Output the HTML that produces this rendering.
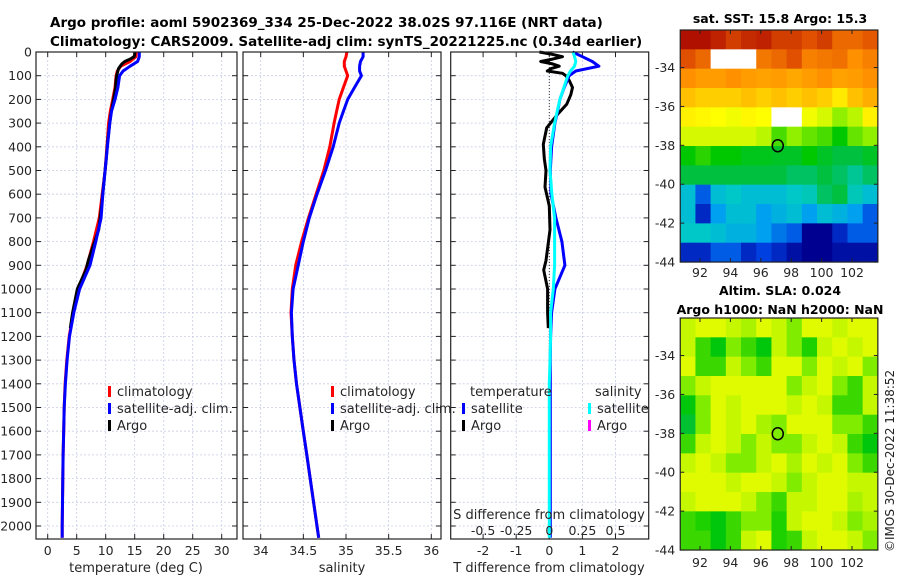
<!DOCTYPE html>
<html><head><meta charset="utf-8">
<style>
html,body{margin:0;padding:0;background:#fff;}
svg{display:block;font-family:"DejaVu Sans","Liberation Sans",sans-serif;}
</style></head>
<body>
<svg id="fig" width="900" height="580" viewBox="0 0 900 580">
<text x="50" y="27" font-size="13.5" font-weight="bold" fill="#000">Argo profile: aoml 5902369_334 25-Dec-2022 38.02S 97.116E (NRT data)</text>
<text x="50" y="46" font-size="13.5" font-weight="bold" fill="#000">Climatology: CARS2009. Satellite-adj clim: synTS_20221225.nc (0.34d earlier)</text>
<text x="780" y="23" font-size="12.5" font-weight="bold" text-anchor="middle">sat. SST: 15.8 Argo: 15.3</text>
<text x="780" y="295" font-size="12.5" font-weight="bold" text-anchor="middle">Altim. SLA: 0.024</text>
<text x="780" y="314" font-size="12.5" font-weight="bold" text-anchor="middle">Argo h1000: NaN h2000: NaN</text>
<text transform="translate(894,552) rotate(-90)" font-size="12" fill="#222">©IMOS 30-Dec-2022 11:38:52</text>
<text x="88" y="512" font-size="10.5" fill="#111">US ARGO PROJECT</text>
<text x="88" y="525" font-size="10.5" fill="#111">PI: DEAN ROEMMICH</text>
</svg>
<script>
// ---- data ----
const depth = [0,20,40,60,80,100,150,200,250,300,400,500,600,700,800,900,1000,1100,1200,1300,1400,1500,1600,1700,1800,1900,2000,2050];
const tClim = [15.3,15.2,14.2,12.6,12.0,11.8,11.6,11.2,10.8,10.5,10.2,9.9,9.4,8.9,7.9,6.8,5.3,4.4,3.7,3.3,3.0,2.85,2.75,2.65,2.6,2.55,2.5,2.5];
const tSat = [15.8,15.8,15.5,14.2,13.0,12.4,12.1,11.6,11.0,10.7,10.3,9.9,9.5,9.2,8.3,7.3,5.5,4.5,3.75,3.35,3.05,2.85,2.75,2.65,2.6,2.55,2.5,2.5];
const argoDepth = [0,10,20,30,40,50,60,70,80,90,100,120,150,180,220,260,320,390,450,500,570,650,750,880,920,1000,1100,1165];
const tArgo = [15.0,15.0,14.9,14.2,13.3,12.8,12.5,12.2,12.1,12.0,11.9,11.8,11.7,11.5,11.2,10.9,10.6,10.3,10.1,9.9,9.6,9.3,8.8,7.0,6.6,5.1,4.3,3.9];
const sClim = [35.01,35.0,34.98,34.98,35.0,35.02,34.97,34.92,34.89,34.86,34.81,34.74,34.65,34.56,34.48,34.41,34.37,34.355,34.37,34.39,34.42,34.46,34.5,34.54,34.58,34.62,34.66,34.68];
const sSat = [35.2,35.2,35.17,35.16,35.16,35.18,35.1,35.02,34.97,34.92,34.85,34.76,34.66,34.57,34.5,34.44,34.38,34.36,34.37,34.39,34.42,34.46,34.5,34.54,34.58,34.62,34.66,34.68];
const dTSat = [0.7,1.0,1.3,1.5,0.8,0.6,0.45,0.32,0.25,0.17,0.07,0.03,0.05,0.2,0.38,0.47,0.17,0.07,0.04,0.03,0.03,0.03,0.03,0.03,0.03,0.03,0.03,0.03];
const dSSat = [0.18,0.19,0.2,0.19,0.16,0.14,0.11,0.08,0.06,0.04,0.01,0.005,0.02,0.04,0.04,0.04,0.03,0.01,0.01,0.005,0,0,0,0,0,0,0,0];
const dTArgo = [-0.3,0.1,0.4,0.1,-0.26,0.1,0.3,0.05,-0.06,0.4,0.5,0.6,0.7,0.65,0.53,0.27,-0.08,-0.18,-0.15,-0.1,-0.13,0.0,0.02,-0.1,-0.17,-0.05,-0.05,-0.03];
const depthTicks = [0,100,200,300,400,500,600,700,800,900,1000,1100,1200,1300,1400,1500,1600,1700,1800,1900,2000];
const tempTicks = [0,5,10,15,20,25,30];
const salTicks = [34,34.5,35,35.5,36];
const tdiffTicks = [-2,-1,0,1,2];
const sdiffTicks = [-0.5,-0.25,0,0.25,0.5];
const sdiffLabels = ["-0.5","-0.25","0","0.25","0.5"];
const latTicks = [-34,-36,-38,-40,-42,-44];
const lonTicks = [92,94,96,98,100,102];
const argoLon = 97.116, argoLat = -38.02;
const sstGrid = [
[.95,.95,.93,.9,.92,.93,.9,.9,.88,.9,.85,.85,.87],
[.88,.85,-1,-1,-1,.83,.85,.88,.82,.83,.84,.8,.82],
[.8,.78,.78,.8,.78,.77,.78,.76,.78,.8,.77,.78,.8],
[.72,.7,.7,.7,.72,.7,.72,.7,.72,.7,.66,.72,.75],
[.65,.64,.63,.62,.64,.63,-1,-1,.62,.6,.55,.58,.65],
[.6,.6,.6,.6,.6,.58,.5,.55,.52,.5,.45,.52,.55],
[.45,.48,.45,.45,.43,.43,.42,.42,.45,.42,.4,.4,.42],
[.4,.4,.4,.4,.4,.4,.4,.38,.38,.4,.38,.35,.38],
[.3,.2,.3,.32,.3,.3,.3,.32,.33,.38,.4,.33,.3],
[.3,.15,.25,.3,.3,.25,.28,.3,.25,.3,.28,.25,.2],
[.32,.32,.3,.28,.28,.25,.22,.2,.1,.1,.15,.2,.2],
[.15,.15,.2,.2,.15,.18,.15,.12,.1,.1,.12,.12,.12]];
const slaGrid = [
[.6,.62,.62,.6,.58,.62,.6,.55,.62,.62,.6,.62,.62],
[.6,.5,.45,.55,.5,.45,.6,.55,.48,.6,.62,.6,.62],
[.62,.5,.5,.6,.55,.5,.62,.62,.55,.62,.6,.62,.55],
[.55,.6,.62,.62,.62,.62,.62,.55,.6,.62,.55,.5,.6],
[.45,.55,.62,.6,.62,.62,.62,.6,.62,.6,.5,.5,.6],
[.42,.55,.62,.6,.62,.58,.55,.62,.62,.62,.55,.55,.5],
[.5,.6,.62,.6,.55,.6,.55,.55,.6,.62,.6,.5,.45],
[.6,.62,.6,.55,.55,.6,.62,.58,.62,.6,.62,.55,.5],
[.62,.62,.62,.6,.62,.62,.6,.55,.6,.62,.62,.6,.6],
[.6,.62,.62,.62,.6,.55,.5,.6,.6,.62,.62,.58,.6],
[.5,.48,.45,.5,.55,.55,.48,.6,.62,.62,.6,.55,.58],
[.5,.5,.45,.5,.6,.62,.48,.5,.6,.62,.62,.6,.55]];

// ---- helpers ----
const NS="http://www.w3.org/2000/svg";
const svg=document.getElementById('fig');
function mk(tag,attrs,parent){const e=document.createElementNS(NS,tag);for(const k in attrs)e.setAttribute(k,attrs[k]);(parent||svg).appendChild(e);return e;}
const Y0=52,Y1=539;
const dy=d=>52+d*0.237;
const tx=v=>47.7+v*5.8;
const sx=v=>260.7+(v-34)*85.3;
const dx=v=>549.3+v*33.1;
const panels=[{x0:36,x1:237,f:tx,ticks:tempTicks,name:'temperature'},{x0:243,x1:441,f:sx,ticks:salTicks,name:'salinity'},{x0:450.7,x1:648.7,f:dx,ticks:tdiffTicks,name:'difference'}];

panels.forEach((p,i)=>{
  const g=mk('g',{});
  
  
  mk('rect',{x:p.x0,y:Y0,width:p.x1-p.x0,height:Y1-Y0,fill:'#fff'},g);
  depthTicks.forEach(d=>{
    const l=mk('line',{x1:p.x0,x2:p.x1,y1:dy(d),y2:dy(d),stroke:'#c8cde6','stroke-width':0.8,'stroke-dasharray':'2,2'},g);
    
    
    mk('line',{x1:p.x0,x2:p.x0+5,y1:dy(d),y2:dy(d),stroke:'#222'},g);
    mk('line',{x1:p.x1-5,x2:p.x1,y1:dy(d),y2:dy(d),stroke:'#222'},g);
  });
  p.ticks.forEach(v=>{
    const x=p.f(v);
    const l=mk('line',{x1:x,x2:x,y1:Y0,y2:Y1,stroke:'#c8cde6','stroke-width':0.8,'stroke-dasharray':'2,2'},g);
    
    
    mk('line',{x1:x,x2:x,y1:Y0,y2:Y0+5,stroke:'#222'},g);
    mk('line',{x1:x,x2:x,y1:Y1-5,y2:Y1,stroke:'#222'},g);
    const t=mk('text',{x:x,y:555,'font-size':12.5,'text-anchor':'middle',fill:'#262626'},g);
    t.textContent=String(v);
    
    
  });
});
depthTicks.forEach(d=>{
  const t=mk('text',{x:32,y:dy(d)+4.5,'font-size':12.5,'text-anchor':'end',fill:'#262626'});
  t.textContent=String(d);
  
  
});
const zl=mk('line',{x1:dx(0),x2:dx(0),y1:Y0,y2:Y1,stroke:'#333','stroke-width':1,'stroke-dasharray':'1,2'});



function line(xs,ds,fx,color,name,w){
  const pts=xs.map((v,i)=>fx(v).toFixed(1)+','+dy(ds[i]).toFixed(1)).join(' ');
  const e=mk('polyline',{points:pts,fill:'none',stroke:color,'stroke-width':w||3,'stroke-linejoin':'round'});
  
  
}
line(tClim,depth,tx,'#f00','temp-climatology-line');
line(tArgo,argoDepth,tx,'#000','temp-argo-line');
line(tSat,depth,tx,'#00f','temp-satellite-line');
line(sClim,depth,sx,'#f00','sal-climatology-line');
line(sSat,depth,sx,'#00f','sal-satellite-line');
line(dTArgo,argoDepth,dx,'#000','tdiff-argo-line');
line(dTSat,depth,dx,'#00f','tdiff-satellite-line');
line(dSSat,depth,v=>dx(v*4),'#0ff','sdiff-satellite-line');

panels.forEach(p=>{
  const b=mk('rect',{x:p.x0,y:Y0,width:p.x1-p.x0,height:Y1-Y0,fill:'none',stroke:'#222','stroke-width':1.2});
  
  
});

function txt(x,y,s,name,opts){const t=mk('text',Object.assign({x:x,y:y,'font-size':13,fill:'#262626'},opts||{}));t.textContent=s;return t;}
txt(136,572,'temperature (deg C)','temperature-axis-title',{'text-anchor':'middle'});
txt(342,572,'salinity','salinity-axis-title',{'text-anchor':'middle'});
txt(549,572,'T difference from climatology','tdiff-axis-title',{'text-anchor':'middle'});
txt(549,519,'S difference from climatology','sdiff-axis-title',{'text-anchor':'middle'});
sdiffTicks.forEach((v,i)=>{txt(dx(v*4),535,sdiffLabels[i],'sdiff-tick-label',{'text-anchor':'middle','font-size':12.5});});

function legItem(bx,y,color,label,name){
  const r=mk('rect',{x:bx,y:y-10,width:3,height:11,fill:color});
  
  
  txt(bx+9,y,label,name+'-label');
}
legItem(108,396,'#f00','climatology','legend-t-climatology');
legItem(108,413,'#00f','satellite-adj. clim.','legend-t-satellite');
legItem(108,430,'#000','Argo','legend-t-argo');
legItem(331,396,'#f00','climatology','legend-s-climatology');
legItem(331,413,'#00f','satellite-adj. clim.','legend-s-satellite');
legItem(331,430,'#000','Argo','legend-s-argo');
txt(470,396,'temperature','legend-temperature-header');
txt(595,396,'salinity','legend-salinity-header');
legItem(462,413,'#00f','satellite','legend-tdiff-satellite');
legItem(462,430,'#000','Argo','legend-tdiff-argo');
legItem(588,413,'#0ff','satellite','legend-sdiff-satellite');
legItem(588,430,'#f0f','Argo','legend-sdiff-argo');

// ---- maps ----
const cmapStops=[[0.1,[0,0,144]],[0.18,[0,64,224]],[0.25,[0,160,240]],[0.32,[0,200,200]],[0.4,[0,192,64]],[0.45,[0,200,0]],[0.55,[144,240,0]],[0.63,[255,255,0]],[0.72,[255,192,0]],[0.8,[255,144,0]],[0.88,[224,80,0]],[0.95,[176,16,0]]];
function cmap(v){
  if(v<=cmapStops[0][0])return 'rgb('+cmapStops[0][1].join(',')+')';
  for(let i=1;i<cmapStops.length;i++){
    if(v<=cmapStops[i][0]){const a=cmapStops[i-1],b=cmapStops[i];const f=(v-a[0])/(b[0]-a[0]);
      return 'rgb('+a[1].map((c,k)=>Math.round(c+(b[1][k]-c)*f)).join(',')+')';}
  }
  return 'rgb('+cmapStops[cmapStops.length-1][1].join(',')+')';
}
const LON0=90.7,LON1=103.7;
const mlx=lon=>700+(lon-92)*15.2;
function drawMap(grid,top,name,scale){
  const lat=l=>top+(-32.07-l)*19.45;
  const g=mk('g',{});
  
  
  const nr=grid.length,nc=grid[0].length;
  const x0=mlx(LON0),x1=mlx(LON1),y0=top,y1=lat(-44);
  const cw=(x1-x0)/nc,ch=(y1-y0)/nr;
  grid.forEach((row,r)=>row.forEach((v,c)=>{
    const cell=mk('rect',{x:(x0+c*cw).toFixed(2),y:(y0+r*ch).toFixed(2),width:(cw+0.5).toFixed(2),height:(ch+0.5).toFixed(2),fill:v<0?'#fff':cmap(v*scale)},g);
    
    
  }));
  mk('rect',{x:x0,y:y0,width:x1-x0,height:y1-y0,fill:'none',stroke:'#222','stroke-width':1.2},g);
  latTicks.forEach(l=>{
    mk('line',{x1:x0,x2:x0+4,y1:lat(l),y2:lat(l),stroke:'#222'},g);
    mk('line',{x1:x1-4,x2:x1,y1:lat(l),y2:lat(l),stroke:'#222'},g);
    txt(x0-5,lat(l)+4.5,String(l),'lat-tick-label',{'text-anchor':'end','font-size':12.5});
  });
  lonTicks.forEach(l=>{
    mk('line',{x1:mlx(l),x2:mlx(l),y1:y1-4,y2:y1,stroke:'#222'},g);
    mk('line',{x1:mlx(l),x2:mlx(l),y1:y0,y2:y0+4,stroke:'#222'},g);
  });
  const m=mk('ellipse',{cx:mlx(argoLon),cy:lat(argoLat),rx:5.5,ry:6,fill:'none',stroke:'#000','stroke-width':1.5},g);
  
  
  return y1;
}
drawMap(sstGrid,30,'sst-map',1);
const yb=drawMap(slaGrid,318,'sla-map',0.98);
lonTicks.forEach(l=>txt(mlx(l),yb+17,String(l),'lon-tick-label',{'text-anchor':'middle','font-size':12.5}));
lonTicks.forEach(l=>txt(mlx(l),277,String(l),'lon-tick-label',{'text-anchor':'middle','font-size':12.5}));
</script>
</body></html>
